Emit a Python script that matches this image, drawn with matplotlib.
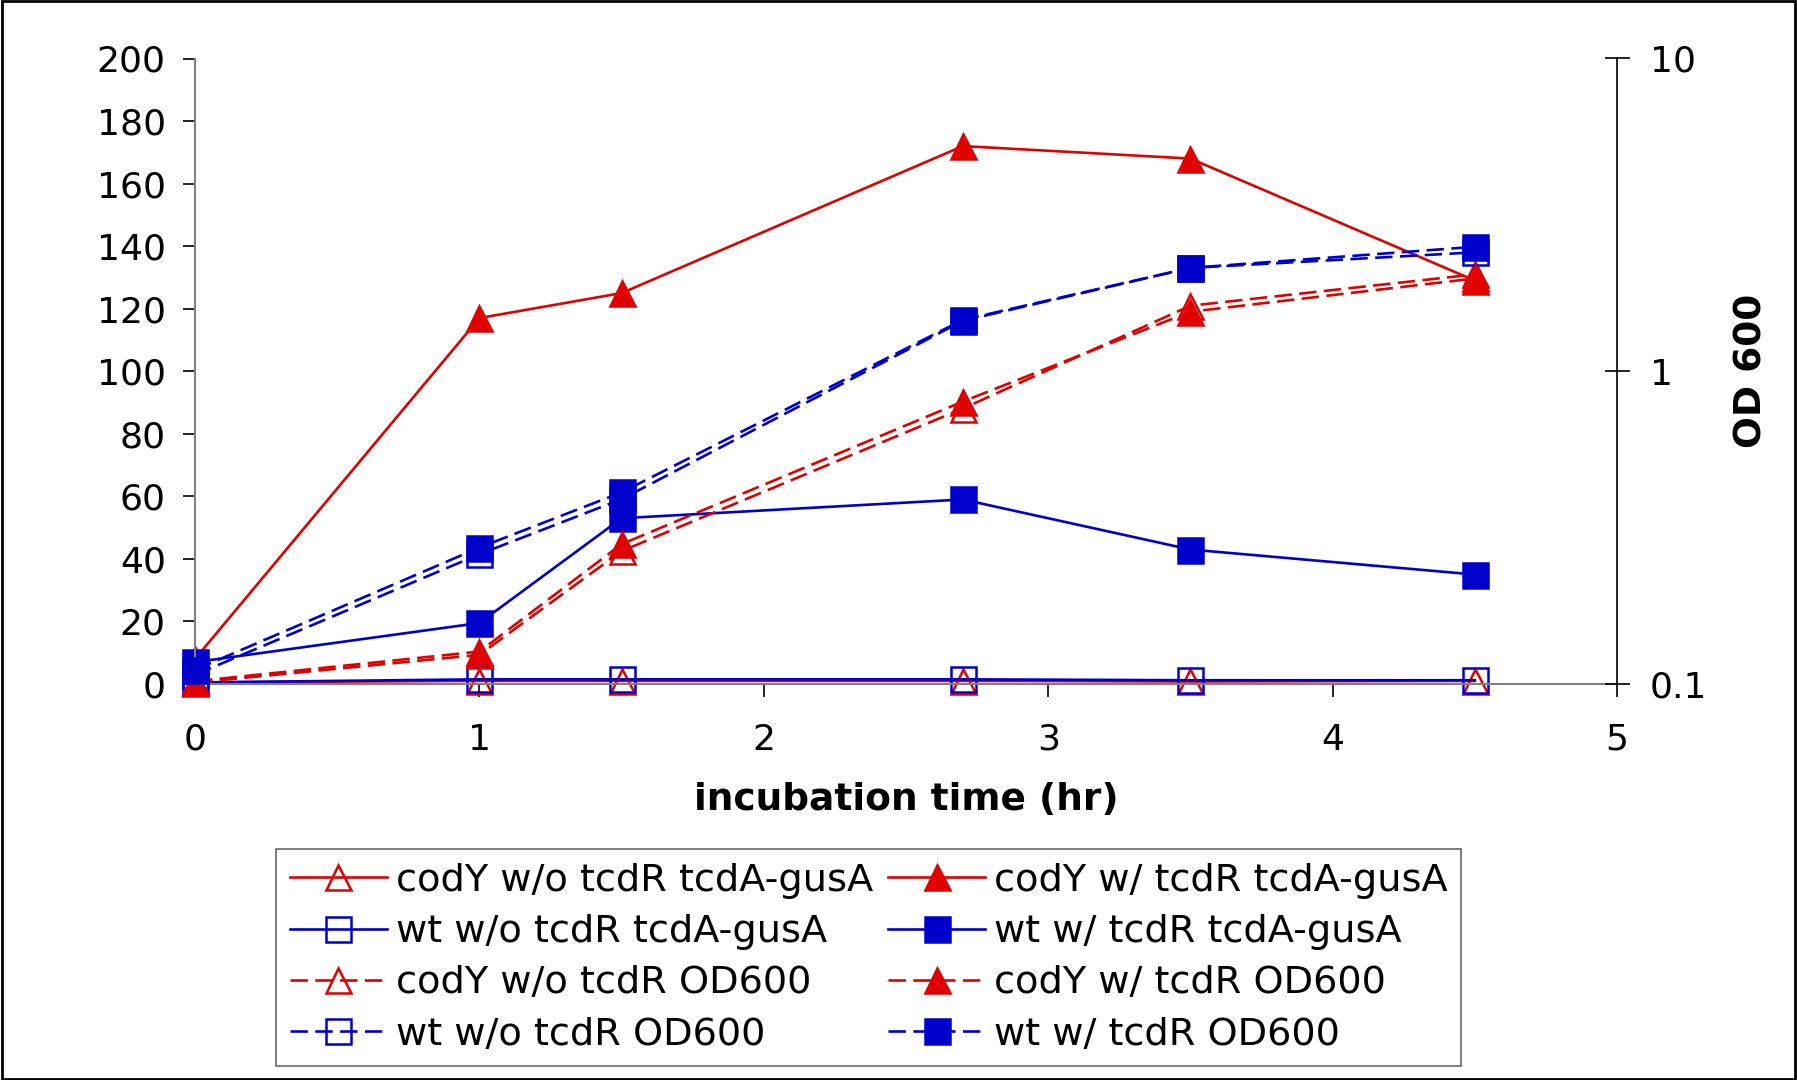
import matplotlib
matplotlib.use("Agg")
import matplotlib.pyplot as plt
from matplotlib.patches import Rectangle
import numpy as np

plt.rcParams['font.family'] = ['DejaVu Sans']

# ---- data ----
time_hr = [0, 1, 1.5, 2.7, 3.5, 4.5]

# tcdA-gusA activity (left axis)
cody_wo_gusA = [0.5, 1.0, 1.0, 1.0, 0.8, 1.0]
cody_w_gusA = [8, 117, 125, 172, 168, 129]
wt_wo_gusA = [0.5, 1.5, 1.5, 1.5, 1.2, 1.2]
wt_w_gusA = [7, 19.5, 53, 59, 43, 35]

# OD600 (right axis, log)
cody_wo_od = [0.101, 0.124, 0.266, 0.76, 1.62, 2.04]
cody_w_od = [0.102, 0.127, 0.28, 0.80, 1.55, 1.98]
wt_wo_od = [0.107, 0.26, 0.39, 1.45, 2.14, 2.40]
wt_w_od = [0.111, 0.273, 0.41, 1.46, 2.14, 2.50]

labels = ["codY w/o tcdR tcdA-gusA", "codY w/ tcdR tcdA-gusA",
          "wt w/o tcdR tcdA-gusA", "wt w/ tcdR tcdA-gusA",
          "codY w/o tcdR OD600", "codY w/ tcdR OD600",
          "wt w/o tcdR OD600", "wt w/ tcdR OD600"]

RED = '#E00000'
BLUE = '#0000CC'

W, H = 1797, 1080
fig = plt.figure(figsize=(W / 100, H / 100), dpi=100)
ax = fig.add_axes([195 / W, 1 - 684 / H, (1617 - 195) / W, (684 - 58.5) / H])
ax2 = ax.twinx()

lw = 1.9
ms = 18
dash = (6.6, 2.8)

def style(color, filled, marker, dashed):
    d = dict(color=color, lw=lw, marker=marker, markersize=ms,
             markeredgecolor=color, markeredgewidth=1.8,
             markerfacecolor=color if filled else 'none', clip_on=False)
    if dashed:
        d['dashes'] = dash
    return d

h = {}
h[0], = ax.plot(time_hr, cody_wo_gusA, **style(RED, False, '^', False))
h[2], = ax.plot(time_hr, wt_wo_gusA, **style(BLUE, False, 's', False))
h[1], = ax.plot(time_hr, cody_w_gusA, **style(RED, True, '^', False))
h[3], = ax.plot(time_hr, wt_w_gusA, **style(BLUE, True, 's', False))

h[4], = ax2.plot(time_hr, cody_wo_od, **style(RED, False, '^', True))
h[6], = ax2.plot(time_hr, wt_wo_od, **style(BLUE, False, 's', True))
h[5], = ax2.plot(time_hr, cody_w_od, **style(RED, True, '^', True))
h[7], = ax2.plot(time_hr, wt_w_od, **style(BLUE, True, 's', True))

ax.set_xlim(0, 5)
ax.set_ylim(0, 200)
ax.set_xticks([0, 1, 2, 3, 4, 5])
ax.set_yticks(np.arange(0, 201, 20))
ax2.set_yscale('log')
ax2.set_ylim(0.1, 10)
ax2.set_yticks([0.1, 1, 10])
ax2.set_yticklabels(['0.1', '1', '10'])
ax2.minorticks_off()

for a in (ax, ax2):
    a.spines['top'].set_visible(False)
ax.spines['right'].set_visible(False)
ax2.spines['left'].set_visible(False)
ax2.spines['bottom'].set_visible(False)
ax.spines['left'].set_color('#808080')
ax.spines['bottom'].set_color('#808080')
ax.spines['left'].set_linewidth(1.5)
ax.spines['bottom'].set_linewidth(1.5)
ax2.spines['right'].set_color('black')
ax2.spines['right'].set_linewidth(1.2)

ax.tick_params(axis='y', direction='out', length=9, width=1.2, labelsize=26, pad=12, color='black')
ax.tick_params(axis='x', direction='out', length=9, width=1.2, labelsize=26, pad=19, color='black')
ax2.tick_params(axis='y', direction='inout', length=18, width=1.2, labelsize=26, pad=14.5, color='black')

ax.set_xlabel('incubation time (hr)', fontsize=27, fontweight='bold', labelpad=18)
ax2.set_ylabel('OD 600', fontsize=27, fontweight='bold', labelpad=19)

order = [0, 2, 4, 6, 1, 3, 5, 7]
leg = fig.legend([h[i] for i in order], [labels[i] for i in order],
                 ncol=2, loc='upper left', bbox_to_anchor=(276 / W, 1 - 849 / H),
                 fontsize=27.5, frameon=True, fancybox=False, edgecolor='#404040',
                 borderpad=0.36, labelspacing=0.40, handlelength=2.55, handletextpad=0.22,
                 columnspacing=0.4, numpoints=1, markerscale=1.0, borderaxespad=0)
leg.get_frame().set_linewidth(1.2)

fig.patches.append(Rectangle((0.001, 0.001), 0.998, 0.998, transform=fig.transFigure,
                             fill=False, edgecolor='black', linewidth=2))

fig.savefig('out.png', dpi=100)
